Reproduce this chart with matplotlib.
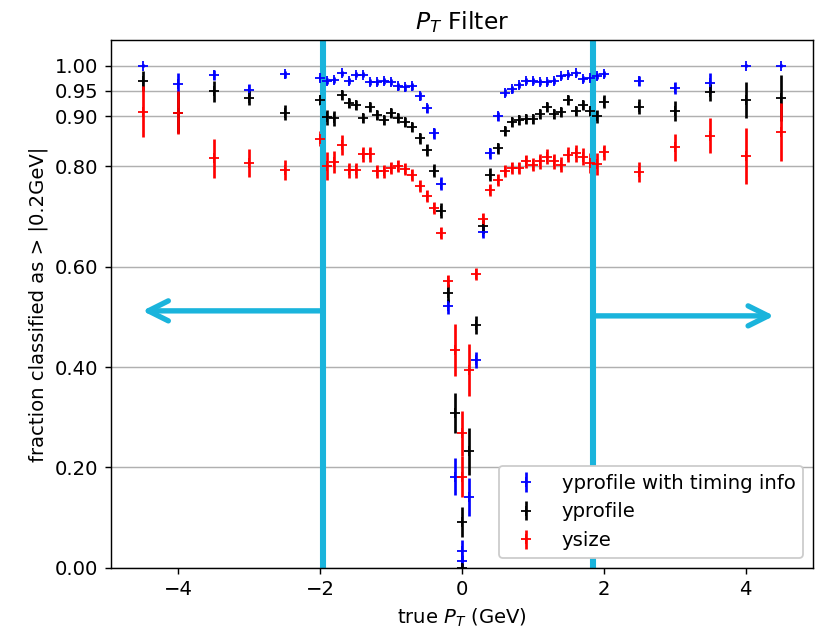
import matplotlib
matplotlib.use("Agg")
import matplotlib.pyplot as plt

# true pT bin centres (GeV); 0.0 appears twice in the source data
pt = [-4.5, -4.0, -3.5, -3.0, -2.5,
      -2.0, -1.9, -1.8, -1.7, -1.6, -1.5, -1.4, -1.3, -1.2, -1.1, -1.0,
      -0.9, -0.8, -0.7, -0.6, -0.5, -0.4, -0.3, -0.2, -0.1, 0.0, 0.0,
      0.1, 0.2, 0.3, 0.4, 0.5, 0.6, 0.7, 0.8, 0.9, 1.0,
      1.1, 1.2, 1.3, 1.4, 1.5, 1.6, 1.7, 1.8, 1.9, 2.0,
      2.5, 3.0, 3.5, 4.0, 4.5]

timing = [1.000, 0.963, 0.982, 0.951, 0.983,
          0.975, 0.969, 0.971, 0.985, 0.969, 0.982, 0.982, 0.967, 0.967, 0.969, 0.967,
          0.959, 0.957, 0.959, 0.940, 0.916, 0.866, 0.765, 0.521, 0.182, 0.034, 0.013,
          0.142, 0.414, 0.670, 0.826, 0.900, 0.946, 0.953, 0.962, 0.969, 0.969,
          0.967, 0.967, 0.969, 0.979, 0.982, 0.985, 0.974, 0.975, 0.979, 0.984,
          0.969, 0.956, 0.965, 1.000, 1.000]
timing_err = [0.003, 0.022, 0.010, 0.012, 0.007,
              0.006, 0.006, 0.006, 0.005, 0.006, 0.005, 0.005, 0.006, 0.006, 0.006, 0.006,
              0.007, 0.007, 0.007, 0.008, 0.009, 0.011, 0.013, 0.015, 0.037, 0.022, 0.012,
              0.038, 0.016, 0.013, 0.011, 0.009, 0.007, 0.007, 0.006, 0.006, 0.006,
              0.006, 0.006, 0.006, 0.005, 0.005, 0.005, 0.006, 0.006, 0.006, 0.006,
              0.010, 0.012, 0.020, 0.003, 0.003]

yprofile = [0.969, 0.907, 0.949, 0.936, 0.907,
            0.932, 0.898, 0.896, 0.942, 0.926, 0.922, 0.896, 0.919, 0.902, 0.892, 0.906,
            0.896, 0.889, 0.878, 0.856, 0.833, 0.791, 0.711, 0.547, 0.308, 0.092, 0.000,
            0.232, 0.484, 0.682, 0.783, 0.836, 0.871, 0.889, 0.892, 0.894, 0.894,
            0.904, 0.919, 0.904, 0.909, 0.932, 0.911, 0.922, 0.911, 0.900, 0.929,
            0.919, 0.910, 0.947, 0.932, 0.936]
yprofile_err = [0.020, 0.040, 0.020, 0.013, 0.015,
                0.010, 0.015, 0.015, 0.010, 0.010, 0.010, 0.010, 0.010, 0.010, 0.010, 0.010,
                0.010, 0.010, 0.010, 0.011, 0.012, 0.013, 0.015, 0.018, 0.040, 0.030, 0.010,
                0.046, 0.018, 0.015, 0.013, 0.011, 0.010, 0.010, 0.010, 0.010, 0.010,
                0.010, 0.010, 0.010, 0.010, 0.010, 0.010, 0.010, 0.010, 0.013, 0.012,
                0.015, 0.020, 0.017, 0.036, 0.045]

ysize = [0.909, 0.907, 0.816, 0.807, 0.793,
         0.855, 0.800, 0.808, 0.843, 0.792, 0.792, 0.824, 0.824, 0.790, 0.790, 0.796,
         0.800, 0.795, 0.783, 0.760, 0.740, 0.716, 0.667, 0.572, 0.434, 0.268, 0.182,
         0.394, 0.586, 0.694, 0.753, 0.773, 0.790, 0.796, 0.796, 0.810, 0.803,
         0.810, 0.819, 0.810, 0.803, 0.823, 0.826, 0.819, 0.806, 0.804, 0.828,
         0.788, 0.838, 0.861, 0.821, 0.869]
ysize_err = [0.050, 0.042, 0.039, 0.028, 0.020,
             0.015, 0.028, 0.022, 0.020, 0.015, 0.015, 0.015, 0.015, 0.013, 0.013, 0.012,
             0.012, 0.012, 0.012, 0.012, 0.012, 0.012, 0.012, 0.012, 0.052, 0.045, 0.040,
             0.052, 0.012, 0.012, 0.012, 0.012, 0.012, 0.012, 0.012, 0.013, 0.013,
             0.015, 0.015, 0.015, 0.015, 0.015, 0.017, 0.017, 0.020, 0.022, 0.015,
             0.020, 0.027, 0.035, 0.056, 0.058]

yticks = [0.0, 0.2, 0.4, 0.6, 0.8, 0.9, 0.95, 1.0]
cut_lo, cut_hi = -1.96, 1.84
cyan = "#1ab4dc"

plt.rcParams["font.size"] = 11

dpi = 128.6
fig = plt.figure(figsize=(823 / dpi, 631 / dpi), dpi=dpi)
ax = fig.add_subplot(111)
fig.subplots_adjust(left=0.135, right=0.988, top=0.937, bottom=0.100)

ax.errorbar(pt, timing, yerr=timing_err, fmt="b+", label="yprofile with timing info")
ax.errorbar(pt, yprofile, yerr=yprofile_err, fmt="k+", label="yprofile")
ax.errorbar(pt, ysize, yerr=ysize_err, fmt="r+", label="ysize")

ax.set_yticks(yticks)
ax.set_yticklabels(["%.2f" % t for t in yticks])
ax.yaxis.grid(True)
ax.set_ylim(0, 1.052)

ax.set_title("$P_T$ Filter")
ax.set_xlabel("true $P_T$ (GeV)")
ax.set_ylabel("fraction classified as > |0.2GeV|")

# cut lines and arrows
ax.axvline(cut_lo, color=cyan, lw=3.4)
ax.axvline(cut_hi, color=cyan, lw=3.4)
ax.annotate("", xy=(-4.56, 0.512), xytext=(cut_lo, 0.512),
            arrowprops=dict(arrowstyle="->", color=cyan, lw=3.0, mutation_scale=28))
ax.annotate("", xy=(4.45, 0.502), xytext=(cut_hi, 0.502),
            arrowprops=dict(arrowstyle="->", color=cyan, lw=3.0, mutation_scale=28))

leg = ax.legend(loc="lower right", framealpha=1.0)
leg.set_zorder(10)

fig.savefig("out.png", dpi=dpi)
